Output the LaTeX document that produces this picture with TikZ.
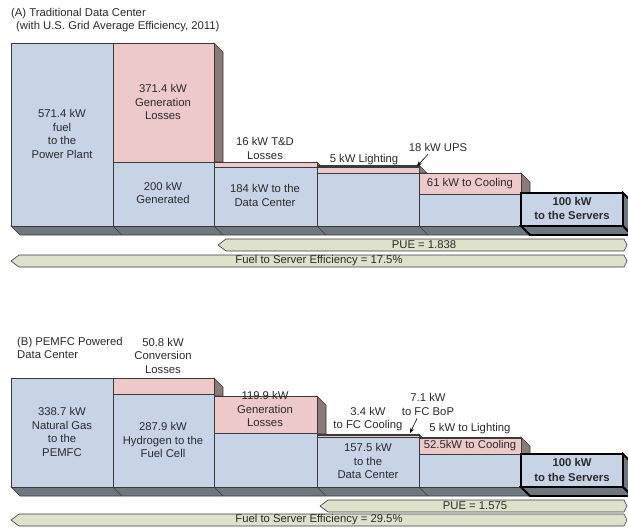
\documentclass[tikz,border=0pt]{standalone}
\usepackage{fontspec}
\setmainfont{Liberation Sans}
\usepackage{xcolor}
\usetikzlibrary{arrows.meta}
\definecolor{flow}{HTML}{C7D4E6}
\definecolor{loss}{HTML}{EDCAC9}
\definecolor{sidec}{HTML}{8C7A78}
\definecolor{basec}{HTML}{6F7880}
\definecolor{band}{HTML}{DEE2CA}
\definecolor{edge}{HTML}{3A3A3A}
\definecolor{txt}{HTML}{2A2A2A}

\begin{document}
\begin{tikzpicture}[x=1pt,y=-1pt,
  every node/.style={font=\fontsize{11.3}{13.5}\selectfont,text=txt,align=center,inner sep=0pt},
  flowbox/.style={fill=flow,draw=edge,line width=0.6pt},
  lossbox/.style={fill=loss,draw=edge,line width=0.6pt},
  sideface/.style={fill=sidec,draw=edge,line width=0.6pt},
  baseface/.style={fill=basec,draw=edge,line width=0.6pt},
  strip/.style={fill=edge,draw=edge,line width=0.4pt},
  banner/.style={fill=band,draw=edge,line width=0.6pt},
  serverbox/.style={fill=flow,draw=black,line width=1.8pt},
  pointer/.style={-{Stealth[length=5pt,width=4pt]},line width=0.6pt,draw=black}]
	\clip (0,0) rectangle (628,529);
	% (A) traditional data center
	\node[anchor=north west,align=left] (titleA) at (11,8) {(A) Traditional Data Center\\\hspace*{5pt}(with U.S. Grid Average Efficiency, 2011)};%
	\filldraw[baseface] (11,226) -- (623,226) -- (632,235) -- (20,235) -- cycle;%
	\foreach \x in {113,214,317,419} \draw[edge,line width=0.6pt] (\x,226) -- ++(9,9);%
	\filldraw[sideface] (214,43) -- (223,52) -- (223,162) -- (214,162) -- cycle;%
	\filldraw[sideface] (317,162) -- (321,166) -- (317,166) -- cycle;%
	\filldraw[sideface] (419,165) -- (427,173) -- (419,173) -- cycle;%
	\filldraw[sideface] (521,173) -- (530,182) -- (530,193) -- (521,193) -- cycle;%
	\filldraw[flowbox] (11,43) rectangle (113,226);%
	\filldraw[lossbox] (113,43) rectangle (214,162);%
	\filldraw[flowbox] (113,162) rectangle (214,226);%
	\filldraw[lossbox] (214,162) rectangle (317,167);%
	\filldraw[flowbox] (214,167) rectangle (317,226);%
	\filldraw[strip] (317,165) rectangle (419,167);%
	\filldraw[lossbox] (317,167) rectangle (419,173);%
	\filldraw[flowbox] (317,173) rectangle (419,226);%
	\filldraw[lossbox] (419,173) rectangle (521,194);%
	\filldraw[flowbox] (419,194) rectangle (521,226);%
	\filldraw[serverbox,fill=basec] (521,226) -- (623,226) -- (632,235) -- (530,235) -- cycle;%
	\filldraw[serverbox,fill=basec] (623,193) -- (632,202) -- (632,235) -- (623,226) -- cycle;%
	\filldraw[serverbox] (521,193) rectangle (623,226);%
	\node (fuelA) at (62,134) {571.4 kW\\fuel\\to the\\Power Plant};%
	\node (genlossA) at (163,102) {371.4 kW\\Generation\\Losses};%
	\node (genA) at (163,193) {200 kW\\Generated};%
	\node (tdA) at (265,148.5) {16 kW T\&D\\Losses};%
	\node (dcA) at (265,195.5) {184 kW to the\\Data Center};%
	\node (lightA) at (364,160) {5 kW Lighting};%
	\node (upsA) at (438,147) {18 kW UPS};%
	\node (coolA) at (470,183.5) {61 kW to Cooling};%
	\node[font=\fontsize{11.3}{14.5}\selectfont\bfseries] (srvA) at (572,208.5) {100 kW\\to the Servers};%
	\coordinate (upsAcorner) at (417,166);%
	\draw[pointer] ([xshift=-10pt,yshift=-3pt]upsA.south) -- (upsAcorner);%
	\filldraw[banner] (218,245) -- (226,239) -- (624,239) -- (627,245) -- (624,251) -- (226,251) -- cycle;%
	\node (pueA) at (424,245) {PUE = 1.838};%
	\filldraw[banner] (11,261) -- (19,255) -- (624,255) -- (627,261) -- (624,267) -- (19,267) -- cycle;%
	\node (effA) at (319,261) {Fuel to Server Efficiency = 17.5\%};%
	% (B) PEMFC powered data center
	\node[anchor=north west,align=left] (titleB) at (17,337) {(B) PEMFC Powered\\Data Center};%
	\node (convB) at (163,355.5) {50.8 kW\\Conversion\\Losses};%
	\filldraw[baseface] (11,487) -- (623,487) -- (632,496) -- (20,496) -- cycle;%
	\foreach \x in {113,214,317,419} \draw[edge,line width=0.6pt] (\x,487) -- ++(9,9);%
	\filldraw[sideface] (214,378) -- (223,387) -- (223,396) -- (214,396) -- cycle;%
	\filldraw[sideface] (317,396) -- (326,405) -- (326,434) -- (317,434) -- cycle;%
	\filldraw[sideface] (419,434) -- (422,437) -- (419,437) -- cycle;%
	\filldraw[sideface] (521,437) -- (530,446) -- (530,454) -- (521,454) -- cycle;%
	\filldraw[flowbox] (11,378) rectangle (113,487);%
	\filldraw[lossbox] (113,378) rectangle (214,394);%
	\filldraw[flowbox] (113,394) rectangle (214,487);%
	\filldraw[lossbox] (214,396) rectangle (317,433);%
	\filldraw[flowbox] (214,433) rectangle (317,487);%
	\filldraw[strip] (317,434) rectangle (419,435.5);%
	\filldraw[lossbox] (317,435.5) rectangle (419,437);%
	\filldraw[flowbox] (317,437) rectangle (419,487);%
	\filldraw[strip] (419,437) rectangle (521,438);%
	\filldraw[lossbox] (419,438) rectangle (521,454);%
	\filldraw[flowbox] (419,454) rectangle (521,487);%
	\filldraw[serverbox,fill=basec] (521,487) -- (623,487) -- (632,496) -- (530,496) -- cycle;%
	\filldraw[serverbox,fill=basec] (623,454) -- (632,463) -- (632,496) -- (623,487) -- cycle;%
	\filldraw[serverbox] (521,454) rectangle (623,487);%
	\node (gasB) at (62,432) {338.7 kW\\Natural Gas\\to the\\PEMFC};%
	\node (h2B) at (163,440) {287.9 kW\\Hydrogen to the\\Fuel Cell};%
	\node (genlossB) at (265,409) {119.9 kW\\Generation\\Losses};%
	\node (fccoolB) at (368,419) {3.4 kW\\to FC Cooling};%
	\node (bopB) at (428,404.5) {7.1 kW\\to FC BoP};%
	\node (dcB) at (368,461) {157.5 kW\\to the\\Data Center};%
	\node (lightB) at (470,429) {5 kW to Lighting};%
	\node (coolB) at (470,446) {52.5kW to Cooling};%
	\node[font=\fontsize{11.3}{14.5}\selectfont\bfseries] (srvB) at (572,470) {100 kW\\to the Servers};%
	\coordinate (bopBcorner) at (410,433);%
	\draw[pointer] ([xshift=-11pt,yshift=-3pt]bopB.south) -- (bopBcorner);%
	\filldraw[banner] (320,506) -- (328,500) -- (624,500) -- (627,506) -- (624,512) -- (328,512) -- cycle;%
	\node (pueB) at (475,506) {PUE = 1.575};%
	\filldraw[banner] (11,520) -- (19,514) -- (624,514) -- (627,520) -- (624,526) -- (19,526) -- cycle;%
	\node (effB) at (319,520) {Fuel to Server Efficiency = 29.5\%};%
\end{tikzpicture}
\end{document}
